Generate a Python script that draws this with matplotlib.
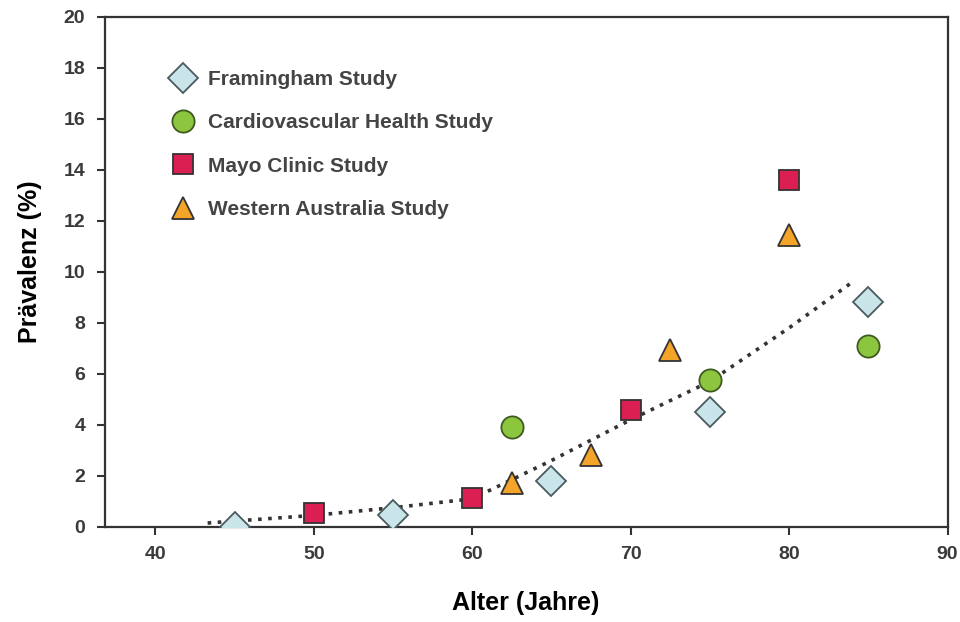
import matplotlib.pyplot as plt

plt.rcParams['font.family'] = ['Liberation Sans', 'DejaVu Sans']

# Framingham Study
fram_x = [45, 55, 65, 75, 85]
fram_y = [0.0, 0.45, 1.8, 4.5, 8.8]
# Cardiovascular Health Study
chs_x = [62.5, 75, 85]
chs_y = [3.9, 5.75, 7.1]
# Mayo Clinic Study
mayo_x = [50, 60, 70, 80]
mayo_y = [0.55, 1.15, 4.6, 13.6]
# Western Australia Study
wa_x = [62.5, 67.5, 72.5, 80]
wa_y = [1.7, 2.8, 6.95, 11.45]
# dotted trend
trend_x = [43.3, 50, 55, 60, 65, 70, 75, 80, 84]
trend_y = [0.15, 0.45, 0.75, 1.1, 2.6, 4.2, 5.7, 7.8, 9.6]

fig = plt.figure(figsize=(9.6, 6.22), dpi=100)
ax = fig.add_axes([0.109, 0.153, 0.878, 0.820])

ax.plot(trend_x, trend_y, linestyle=(0, (1, 1.8)), color='#333333', linewidth=2.6, zorder=2)

ec = '#333333'
ax.plot(fram_x, fram_y, 'D', ms=15, mfc='#c9e5ea', mec='#4a5a5e', mew=1.3,
        linestyle='none', label='Framingham Study', zorder=3)
ax.plot(chs_x, chs_y, 'o', ms=16, mfc='#8cc63e', mec='#3f5a20', mew=1.3,
        linestyle='none', label='Cardiovascular Health Study', zorder=3)
ax.plot(mayo_x, mayo_y, 's', ms=14, mfc='#dc1f52', mec=ec, mew=1.3,
        linestyle='none', label='Mayo Clinic Study', zorder=3)
ax.plot(wa_x, wa_y, '^', ms=16, mfc='#f4a428', mec=ec, mew=1.3,
        linestyle='none', label='Western Australia Study', zorder=3)

ax.set_xlim(36.8, 90)
ax.set_ylim(0, 20)
ax.set_xticks([40, 50, 60, 70, 80, 90])
ax.set_yticks(range(0, 21, 2))

for s in ax.spines.values():
    s.set_color('#333333')
    s.set_linewidth(1.6)
ax.tick_params(direction='out', length=6, width=1.5, colors='#333333',
               labelsize=14, labelcolor='#3a3a3a', pad=8)
for t in ax.get_xticklabels() + ax.get_yticklabels():
    t.set_fontweight('bold')

ax.set_xlabel('Alter (Jahre)', fontsize=18, fontweight='bold', labelpad=20)
ax.set_ylabel('Prävalenz (%)', fontsize=18, fontweight='bold')
ax.yaxis.set_label_coords(-0.074, 0.52)

leg = ax.legend(loc='upper left', bbox_to_anchor=(0.068, 0.912), frameon=False,
                fontsize=15, handletextpad=0.6, labelspacing=1.17,
                handlelength=1.2, borderaxespad=0)
for t in leg.get_texts():
    t.set_fontweight('bold')
    t.set_color('#444444')

fig.savefig('out.png', dpi=100)
